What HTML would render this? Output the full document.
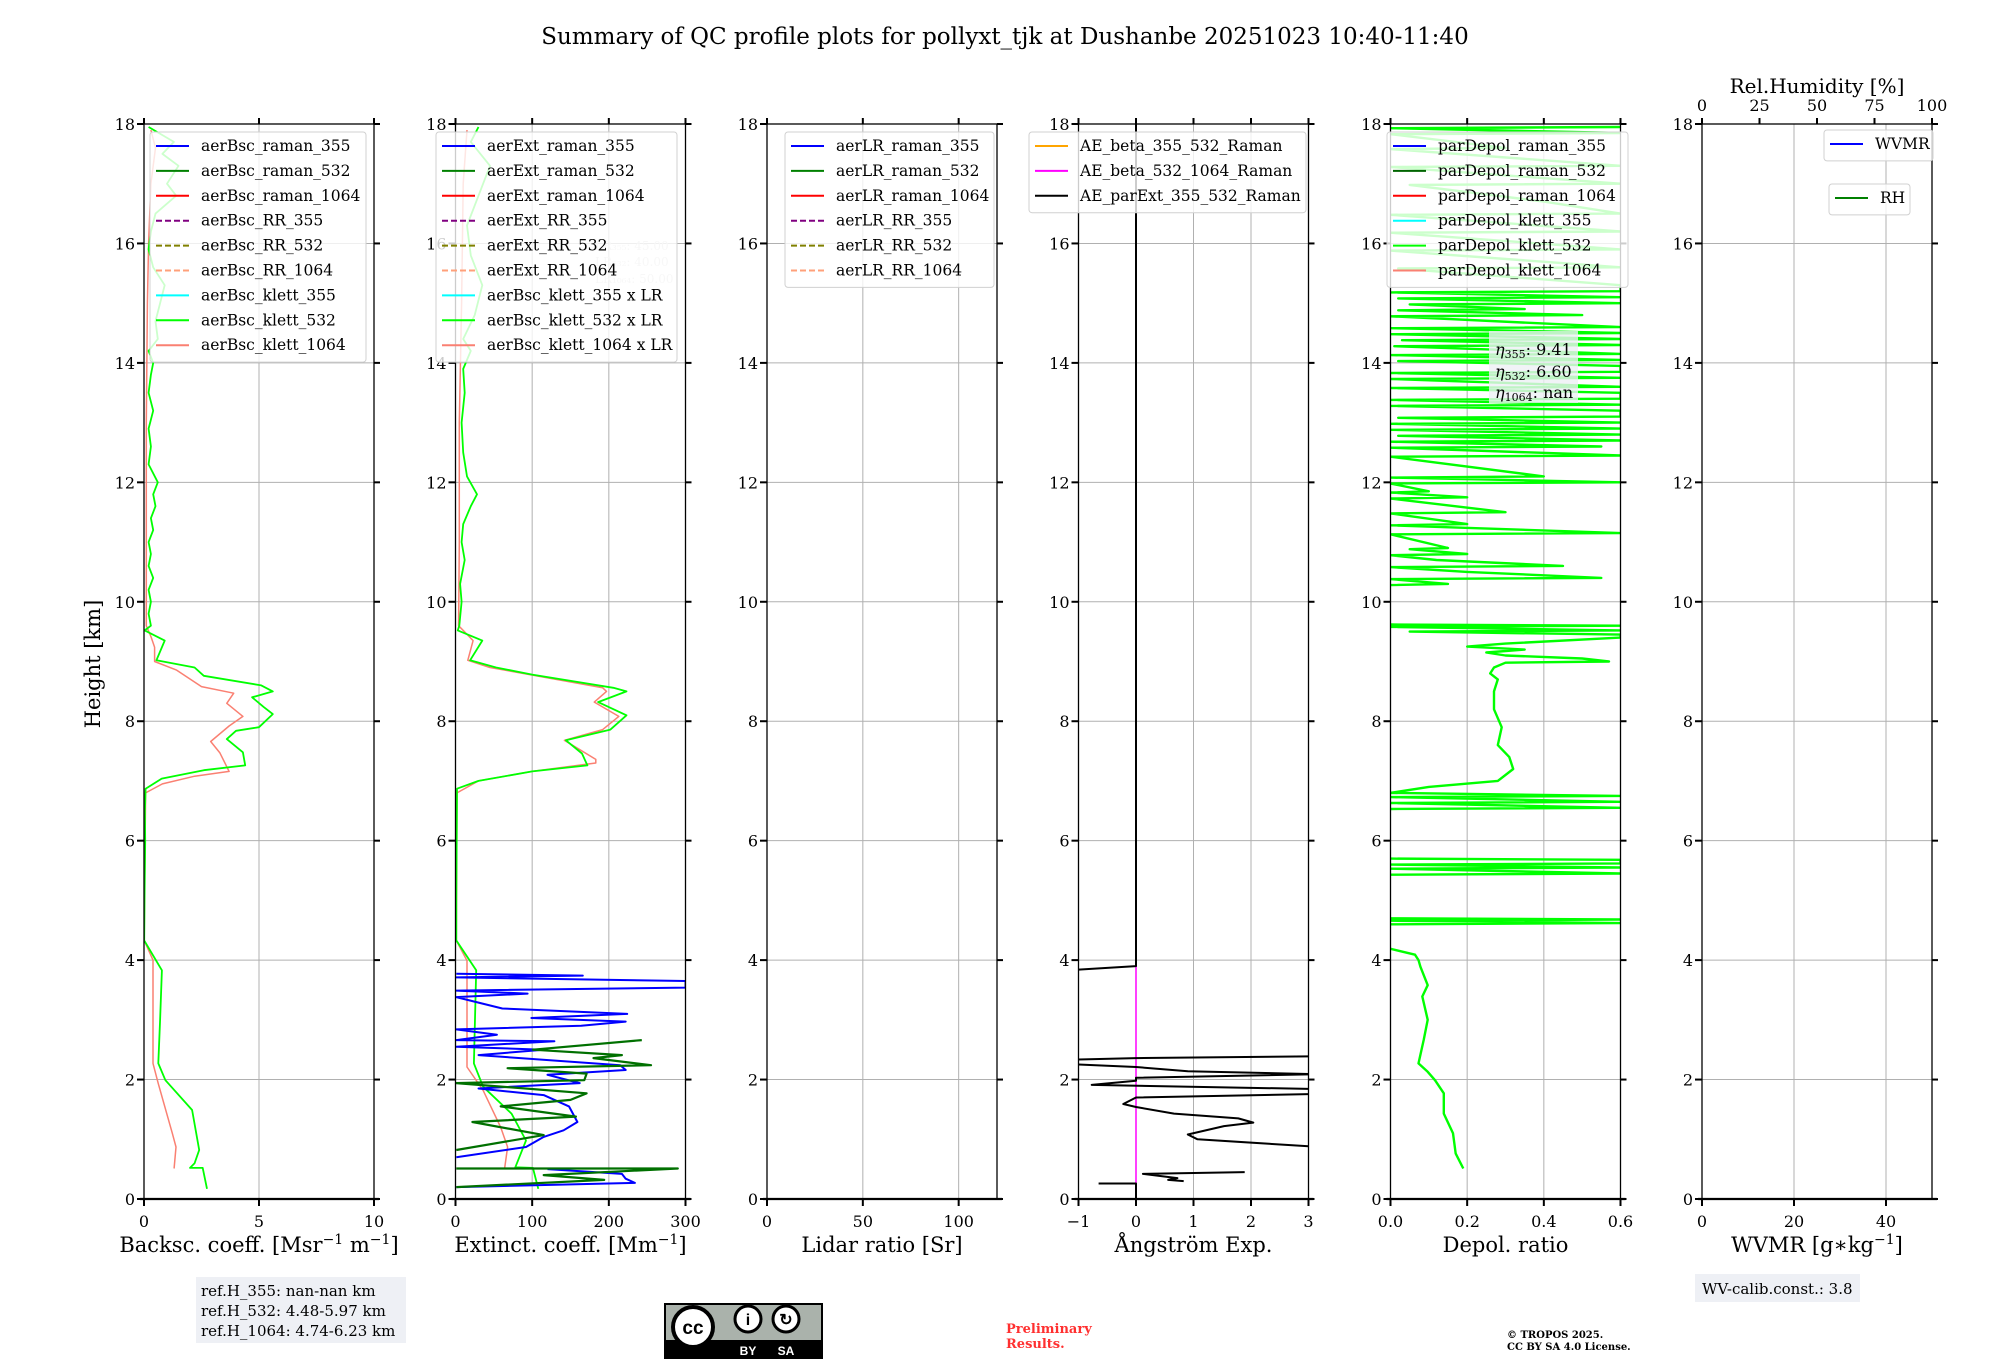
<!DOCTYPE html>
<html><head><meta charset="utf-8"><style>
html,body{margin:0;padding:0;background:#fff;}
svg{display:block;font-family:"DejaVu Serif","Liberation Serif",serif;}
</style></head><body>
<svg id="chart" width="2000" height="1360" viewBox="0 0 2000 1360" xmlns="http://www.w3.org/2000/svg">
<text x="1005" y="44" text-anchor="middle" font-size="23">Summary of QC profile plots for pollyxt_tjk at Dushanbe 20251023 10:40-11:40</text>
<text x="100" y="664" text-anchor="middle" font-size="21" transform="rotate(-90 100 664)">Height [km]</text>
<g id="panels"></g>
<g>
<rect x="196" y="1277" width="210" height="66" fill="#eef0f5"/>
<text x="201" y="1296" font-size="15">ref.H_355: nan-nan km</text>
<text x="201" y="1316" font-size="15">ref.H_532: 4.48-5.97 km</text>
<text x="201" y="1336" font-size="15">ref.H_1064: 4.74-6.23 km</text>
</g>
<g>
<rect x="665" y="1304" width="157" height="54" fill="#aab2ab" stroke="#000" stroke-width="2"/>
<rect x="665" y="1340" width="157" height="18" fill="#000"/>
<circle cx="693" cy="1327" r="20" fill="#fff" stroke="#000" stroke-width="4"/>
<text x="693" y="1334" text-anchor="middle" font-size="19" font-weight="bold" font-family="Liberation Sans, sans-serif">cc</text>
<circle cx="748" cy="1319" r="13" fill="#fff" stroke="#000" stroke-width="3"/>
<circle cx="786" cy="1319" r="13" fill="#fff" stroke="#000" stroke-width="3"/>
<text x="748" y="1325" text-anchor="middle" font-size="16" font-weight="bold" font-family="Liberation Sans, sans-serif">i</text>
<text x="786" y="1325" text-anchor="middle" font-size="16" font-weight="bold" font-family="Liberation Sans, sans-serif">↻</text>
<text x="748" y="1355" text-anchor="middle" font-size="12" fill="#fff" font-weight="bold" font-family="Liberation Sans, sans-serif">BY</text>
<text x="786" y="1355" text-anchor="middle" font-size="12" fill="#fff" font-weight="bold" font-family="Liberation Sans, sans-serif">SA</text>
</g>
<text x="1006" y="1333" font-size="13" font-weight="bold" fill="#ff3030">Preliminary</text>
<text x="1006" y="1348" font-size="13" font-weight="bold" fill="#ff3030">Results.</text>
<text x="1507" y="1338" font-size="10" font-weight="bold">© TROPOS 2025.</text>
<text x="1507" y="1350" font-size="10" font-weight="bold">CC BY SA 4.0 License.</text>
<g>
<rect x="1695" y="1274" width="165" height="28" fill="#eef0f5"/>
<text x="1702" y="1294" font-size="15">WV-calib.const.: 3.8</text>
</g>
</svg>
<script>
// ---------- data (height km, value) ----------
const heightTicks = [0,2,4,6,8,10,12,14,16,18];
const bscKlett532 = [[17.95,0.2],[17.7,1.3],[17.5,0.8],[17.3,1.5],[17.0,1.0],[16.8,1.4],[16.5,0.5],[16.2,0.3],[15.9,0.2],[15.6,0.4],[15.3,0.9],[15.0,0.7],[14.7,0.5],[14.4,0.6],[14.2,0.2],[14.0,0.4],[13.8,0.3],[13.5,0.2],[13.2,0.4],[12.9,0.2],[12.6,0.3],[12.3,0.2],[12.0,0.6],[11.8,0.4],[11.6,0.5],[11.4,0.3],[11.2,0.4],[11.0,0.2],[10.8,0.3],[10.6,0.2],[10.4,0.4],[10.2,0.2],[10.0,0.3],[9.8,0.2],[9.6,0.3],[9.52,0.03],[9.35,0.9],[9.02,0.54],[8.9,2.2],[8.76,2.6],[8.6,5.1],[8.5,5.6],[8.4,4.7],[8.24,5.2],[8.12,5.6],[7.9,5.0],[7.84,4.0],[7.7,3.6],[7.48,4.3],[7.26,4.4],[7.18,2.6],[7.04,0.77],[6.87,0.07],[6.5,0.04],[6.0,0.05],[5.0,0.02],[4.33,0.01],[3.83,0.78],[3.0,0.7],[2.27,0.62],[1.99,0.93],[1.49,2.09],[0.82,2.4],[0.6,2.2],[0.52,2.0],[0.52,2.55],[0.17,2.74]];
const bscKlett1064 = [[17.9,0.3],[17.6,0.5],[17.0,0.3],[16.0,0.2],[15.0,0.15],[13.0,0.1],[11.0,0.1],[9.6,0.1],[9.41,0.31],[9.24,0.46],[9.0,0.46],[8.86,1.4],[8.58,2.5],[8.47,3.9],[8.3,3.6],[8.08,4.3],[7.92,3.7],[7.66,2.9],[7.47,3.3],[7.16,3.7],[7.08,2.2],[6.95,0.8],[6.8,0.07],[5.0,0.02],[4.33,0.01],[4.0,0.39],[2.27,0.39],[1.93,0.62],[1.09,1.24],[0.87,1.39],[0.51,1.31]];
const extKlett532 = [[17.95,30],[17.7,20],[17.3,45],[16.8,30],[16.3,15],[15.8,20],[15.3,35],[14.8,25],[14.4,10],[14.2,20],[13.9,10],[13.5,12],[13.0,8],[12.5,10],[12.1,15],[11.8,28],[11.6,20],[11.3,10],[11.0,8],[10.7,12],[10.3,6],[10.0,8],[9.6,5],[9.52,3],[9.35,35],[9.02,19],[8.9,53],[8.78,100],[8.56,206],[8.5,223],[8.32,186],[8.1,223],[7.86,202],[7.68,144],[7.46,165],[7.26,172],[7.16,100],[7.0,30],[6.87,2],[5.0,1],[4.33,1],[3.83,27],[2.27,24],[1.88,36],[1.43,73],[0.98,92],[0.53,78],[0.52,101],[0.17,108]];
const extKlett1064 = [[17.9,15],[17.0,10],[15.0,8],[13.0,5],[11.0,5],[9.6,4],[9.35,23],[9.02,16],[8.9,45],[8.56,192],[8.5,197],[8.32,181],[8.08,213],[7.86,192],[7.68,142],[7.36,183],[7.3,183],[7.16,100],[7.0,30],[6.8,2],[4.33,1],[3.99,15],[2.21,15],[1.82,36],[1.2,59],[0.87,68],[0.51,64]];
const extRaman355 = [[3.77,1],[3.74,166],[3.71,1],[3.65,300],[3.54,300],[3.49,1],[3.44,94],[3.38,1],[3.19,61],[3.1,224],[3.03,99],[2.97,222],[2.9,164],[2.84,1],[2.75,54],[2.66,1],[2.64,129],[2.55,1],[2.5,115],[2.41,30],[2.24,215],[2.16,222],[2.08,120],[1.94,162],[1.85,30],[1.74,115],[1.55,148],[1.29,159],[1.15,141],[1.04,115],[0.87,92],[0.7,1],null,[0.5,120],[0.42,217],[0.34,222],[0.27,234],[0.2,1]];
const extRaman532 = [[2.66,243],[2.5,101],[2.41,217],[2.36,180],[2.24,255],[2.19,68],[2.1,171],[1.99,168],[1.94,1],[1.77,171],[1.66,150],[1.55,59],[1.38,157],[1.29,22],[1.07,115],[0.82,1],null,[0.51,1],[0.51,290],[0.4,115],[0.32,194],[0.2,1]];
const aeParExt = [[18,0],[3.9,0],[3.83,-1.2],null,[2.39,3.2],[2.36,0],[2.33,-1.2],[2.26,-1.2],[2.21,0],[2.14,0.9],[2.09,3.2],[2.03,0],[1.98,0],[1.91,-0.77],[1.84,3.2],[1.76,3.2],[1.7,0],[1.59,-0.22],[1.54,0],[1.43,0.66],[1.35,1.78],[1.28,2.04],[1.22,1.53],[1.08,0.9],[1.0,1.07],[0.87,3.2],null,[0.45,1.89],[0.42,0.12],[0.35,0.72],[0.32,0.56],[0.3,0.83],null,[0.26,-0.65],[0.26,0],[0,0]];
const aeBeta532_1064 = [[3.9,0],[0,0]];
const depolKlett532 = [[17.95,0.6],[17.93,0.0],[17.85,0.6],[17.83,0.0],[17.6,0.3],[17.58,0.0],[17.3,0.6],[17.28,0.0],[17.0,0.6],[16.98,0.05],[16.7,0.4],[16.5,0.6],[16.48,0.0],[16.2,0.6],[16.18,0.0],[15.9,0.6],[15.88,0.0],[15.6,0.6],[15.58,0.02],[15.3,0.6],[15.2,0.6],[15.18,0.0],[15.1,0.6],[15.08,0.02],[15.0,0.6],[14.98,0.05],[14.9,0.35],[14.88,0.02],[14.8,0.5],[14.78,0.0],[14.6,0.6],[14.58,0.0],[14.5,0.6],[14.48,0.0],[14.4,0.6],[14.38,0.03],[14.3,0.6],[14.28,0.01],[14.15,0.6],[14.13,0.0],[14.05,0.6],[14.03,0.02],[13.95,0.6],[13.85,0.6],[13.83,0.0],[13.75,0.6],[13.73,0.0],[13.6,0.6],[13.58,0.0],[13.5,0.6],[13.4,0.6],[13.38,0.0],[13.3,0.6],[13.28,0.0],[13.2,0.6],[13.1,0.6],[13.08,0.02],[13.0,0.6],[12.98,0.0],[12.9,0.6],[12.88,0.0],[12.8,0.6],[12.78,0.02],[12.7,0.6],[12.68,0.0],[12.6,0.55],[12.58,0.0],[12.45,0.6],[12.43,0.0],[12.1,0.4],[12.08,0.0],[12.0,0.6],[11.98,0.0],[11.85,0.1],[11.83,0.0],[11.75,0.2],[11.73,0.0],[11.5,0.3],[11.48,0.0],[11.3,0.2],[11.28,0.0],[11.15,0.6],[11.13,0.0],[10.9,0.15],[10.88,0.05],[10.8,0.2],[10.78,0.0],[10.7,0.12],[10.6,0.45],[10.58,0.0],[10.5,0.2],[10.4,0.55],[10.38,0.0],[10.3,0.15],[10.28,0.0],null,[9.62,0.0],[9.6,0.6],[9.58,0.0],[9.52,0.6],[9.5,0.05],[9.45,0.6],[9.4,0.6],[9.3,0.3],[9.25,0.2],[9.2,0.35],[9.15,0.25],[9.1,0.3],[9.05,0.5],[9.0,0.57],[8.98,0.3],[8.9,0.27],[8.8,0.26],[8.7,0.28],[8.5,0.27],[8.2,0.27],[7.9,0.29],[7.6,0.28],[7.4,0.31],[7.2,0.32],[7.0,0.28],[6.9,0.1],[6.8,0.0],[6.75,0.6],[6.73,0.0],[6.65,0.6],[6.63,0.0],[6.55,0.6],[6.53,0.0],null,[5.7,0.0],[5.68,0.6],[5.62,0.6],[5.6,0.0],[5.55,0.6],[5.53,0.0],[5.45,0.6],[5.43,0.0],null,[4.7,0.0],[4.68,0.6],[4.66,0.0],[4.62,0.6],[4.6,0.0],null,[4.19,0.0],[4.09,0.064],[4.0,0.073],[3.89,0.078],[3.58,0.097],[3.39,0.083],[3.0,0.097],[2.67,0.087],[2.27,0.073],[2.13,0.097],[1.99,0.116],[1.77,0.139],[1.43,0.139],[1.1,0.163],[0.76,0.17],[0.51,0.19]];

const bscLegend = ['aerBsc_raman_355','aerBsc_raman_532','aerBsc_raman_1064','aerBsc_RR_355','aerBsc_RR_532','aerBsc_RR_1064','aerBsc_klett_355','aerBsc_klett_532','aerBsc_klett_1064'];
const extLegend = ['aerExt_raman_355','aerExt_raman_532','aerExt_raman_1064','aerExt_RR_355','aerExt_RR_532','aerExt_RR_1064','aerBsc_klett_355 x LR','aerBsc_klett_532 x LR','aerBsc_klett_1064 x LR'];
const lrLegend = ['aerLR_raman_355','aerLR_raman_532','aerLR_raman_1064','aerLR_RR_355','aerLR_RR_532','aerLR_RR_1064'];
const aeLegend = ['AE_beta_355_532_Raman','AE_beta_532_1064_Raman','AE_parExt_355_532_Raman'];
const depolLegend = ['parDepol_raman_355','parDepol_raman_532','parDepol_raman_1064','parDepol_klett_355','parDepol_klett_532','parDepol_klett_1064'];
const rhTicks = [0,25,50,75,100];

// ---------- drawing ----------
const NS='http://www.w3.org/2000/svg';
const root=document.getElementById('panels');
const TOP=124, BOT=1199, W=230;
const yOf=h=>BOT-(h/18)*(BOT-TOP);
function el(tag,attrs,parent){const e=document.createElementNS(NS,tag);for(const k in attrs)e.setAttribute(k,attrs[k]);(parent||root).appendChild(e);return e;}
const sty9=[['#0000ff',''],['#008000',''],['#ff0000',''],['#800080','6,3'],['#808000','6,3'],['#ffa07a','6,3'],['#00ffff',''],['#00ff00',''],['#fa8072','']];
const panels=[
 {L:144,min:0,max:10,ticks:[0,5,10],fmt:v=>String(v),name:'backscatter'},
 {L:455.5,min:0,max:300,ticks:[0,100,200,300],fmt:v=>String(v),name:'extinction'},
 {L:767,min:0,max:120,ticks:[0,50,100],fmt:v=>String(v),name:'lidar-ratio'},
 {L:1078.5,min:-1,max:3,ticks:[-1,0,1,2,3],fmt:v=>v<0?'\u2212'+(-v):String(v),name:'angstrom'},
 {L:1390.5,min:0,max:0.6,ticks:[0,0.2,0.4,0.6],fmt:v=>v.toFixed(1),name:'depol'},
 {L:1702,min:0,max:50,ticks:[0,20,40],fmt:v=>String(v),name:'wvmr'}];
panels.forEach((p,pi)=>{
 const g=el('g',{});
 
 
 const xOf=v=>p.L+(v-p.min)/(p.max-p.min)*W;
 p.xOf=xOf; p.g=g;
 const cp=el('clipPath',{id:'clip'+pi},g);
 el('rect',{x:p.L,y:TOP,width:W,height:BOT-TOP},cp);
 heightTicks.forEach(h=>{const l=el('line',{x1:p.L,x2:p.L+W,y1:yOf(h),y2:yOf(h),stroke:'#b0b0b0','stroke-width':1},g);
   });
 p.ticks.forEach(v=>{const l=el('line',{x1:xOf(v),x2:xOf(v),y1:TOP,y2:BOT,stroke:'#b0b0b0','stroke-width':1},g);
   });
 p.data=el('g',{'clip-path':'url(#clip'+pi+')'},g);
  
});
function drawSeries(p,arr,color,width,name){
 let d='',pen=false;
 arr.forEach(pt=>{ if(!pt){pen=false;return;} d+=(pen?'L':'M')+p.xOf(pt[1]).toFixed(1)+' '+yOf(pt[0]).toFixed(1)+' '; pen=true;});
 const e=el('path',{d:d,fill:'none',stroke:color,'stroke-width':width,'stroke-linejoin':'round'},p.data);
 
 
}
drawSeries(panels[0],bscKlett1064,'#fa8072',1.5,'aerbsc-klett-1064-line');
drawSeries(panels[0],bscKlett532,'#00ff00',1.8,'aerbsc-klett-532-line');
drawSeries(panels[1],extKlett1064,'#fa8072',1.5,'aerext-klett-1064-line');
drawSeries(panels[1],extKlett532,'#00ff00',1.8,'aerext-klett-532-line');
drawSeries(panels[1],extRaman355,'#0000ff',2,'aerext-raman-355-line');
drawSeries(panels[1],extRaman532,'#007000',2.2,'aerext-raman-532-line');
drawSeries(panels[3],aeBeta532_1064,'#ff00ff',1.5,'ae-beta-532-1064-line');
drawSeries(panels[3],aeParExt,'#000000',2,'ae-parext-355-532-line');
drawSeries(panels[4],depolKlett532,'#00ff00',2.4,'pardepol-klett-532-line');

panels.forEach((p,pi)=>{
 const g=p.g, xOf=p.xOf;
 el('rect',{x:p.L,y:TOP,width:W,height:BOT-TOP,fill:'none',stroke:'#000','stroke-width':1.3},g);
 el('line',{x1:p.L-4,x2:p.L+W+5,y1:BOT,y2:BOT,stroke:'#000','stroke-width':2.2},g);
 heightTicks.forEach(h=>{
  const y=yOf(h);
  el('line',{x1:p.L-7,x2:p.L,y1:y,y2:y,stroke:'#000','stroke-width':2},g);
  el('line',{x1:p.L+W,x2:p.L+W+6,y1:y,y2:y,stroke:'#000','stroke-width':2},g);
  const t=el('text',{x:p.L-9,y:y+6,'text-anchor':'end','font-size':16},g);
  t.textContent=String(h);
  
  
 });
 p.ticks.forEach(v=>{
  const x=xOf(v);
  el('line',{x1:x,x2:x,y1:BOT,y2:BOT+7,stroke:'#000','stroke-width':2},g);
  if(pi<5) el('line',{x1:x,x2:x,y1:TOP-6,y2:TOP,stroke:'#000','stroke-width':2},g);
  const t=el('text',{x:x,y:BOT+28,'text-anchor':'middle','font-size':16},g);
  t.textContent=p.fmt(v);
  
  
 });
});
(function(){const p=panels[5];
 rhTicks.forEach(v=>{const x=p.L+v/100*W;
  el('line',{x1:x,x2:x,y1:TOP-6,y2:TOP,stroke:'#000','stroke-width':2},p.g);
  const t=el('text',{x:x,y:TOP-13,'text-anchor':'middle','font-size':16},p.g);
  t.textContent=String(v);
  
  });
 const t=el('text',{x:p.L+W/2,y:93,'text-anchor':'middle','font-size':20},p.g);
 t.textContent='Rel.Humidity [%]';
 
 
})();
function axisTitle(p,parts,name){
 const t=el('text',{x:p.L+W/2,y:1252,'text-anchor':'middle','font-size':21},p.g);
 
 
 parts.forEach(pt=>{const s=el('tspan',pt[1]?{dy:pt[1],'font-size':pt[2]||21}:{},t); s.textContent=pt[0];});
}
axisTitle(panels[0],[['Backsc. coeff. [Msr'],['\u22121',-8,14],[' m',8],['\u22121',-8,14],[']',8]],'x-axis-title-backscatter');
axisTitle(panels[1],[['Extinct. coeff. [Mm'],['\u22121',-8,14],[']',8]],'x-axis-title-extinction');
axisTitle(panels[2],[['Lidar ratio [Sr]']],'x-axis-title-lidar-ratio');
axisTitle(panels[3],[['Ångström Exp.']],'x-axis-title-angstrom');
axisTitle(panels[4],[['Depol. ratio']],'x-axis-title-depol');
axisTitle(panels[5],[['WVMR ['],['g',0],['\u2217kg'],['\u22121',-8,14],[']',8]],'x-axis-title-wvmr');
function legend(x,y,w,labels,styles,name){
 const g=el('g',{});
 
 
 el('rect',{x:x,y:y,width:w,height:labels.length*24.9+6,rx:3,fill:'rgba(255,255,255,0.8)',stroke:'#d0d0d0','stroke-width':1},g);
 labels.forEach((lab,i)=>{
  const yy=y+14+i*24.9;
  const st=styles[i];
  const ln=el('line',{x1:x+6,x2:x+39,y1:yy,y2:yy,stroke:st[0],'stroke-width':2,'stroke-dasharray':st[1]||'none'},g);
  
  
  const t=el('text',{x:x+51,y:yy+5,'font-size':15.5},g);
  t.textContent=lab;
  
  
 });
}
[['LR₃₅₅: 45.00',250],['LR₅₃₂: 40.00',266],['LR₁₀₆₄: 50.00',283]].forEach(a=>{
 const t=el('text',{x:595,y:a[1],'font-size':12,fill:'#d8d8d8'});
 t.textContent=a[0];
 
 
});
legend(150,132,216,bscLegend,sty9,'backscatter-legend');
legend(436,132,241,extLegend,sty9,'extinction-legend');
legend(785,132,209,lrLegend,sty9.slice(0,6),'lidar-ratio-legend');
legend(1029,132,277,aeLegend,[['#ffa500',''],['#ff00ff',''],['#000000','']],'angstrom-legend');
legend(1387,132,241,depolLegend,[['#0000ff',''],['#006400',''],['#ff0000',''],['#00ffff',''],['#00ff00',''],['#fa8072','']],'depol-legend');
legend(1824,130,109,['WVMR'],[['#0000ff','']],'wvmr-legend');
legend(1829,184,81,['RH'],[['#008000','']],'rh-legend');
(function(){const g=el('g',{});
 
 
 el('rect',{x:1489,y:331,width:89,height:72,fill:'rgba(238,240,245,0.8)'},g);
 [['η','355',': 9.41',355],['η','532',': 6.60',377],['η','1064',': nan',398]].forEach(r=>{
  const t=el('text',{x:1495,y:r[3],'font-size':16},g);
  const a=el('tspan',{'font-style':'italic'},t); a.textContent=r[0];
  const b=el('tspan',{'font-size':11,dy:3},t); b.textContent=r[1];
  const c=el('tspan',{dy:-3},t); c.textContent=r[2];
 });
})();
</script>
</body></html>
